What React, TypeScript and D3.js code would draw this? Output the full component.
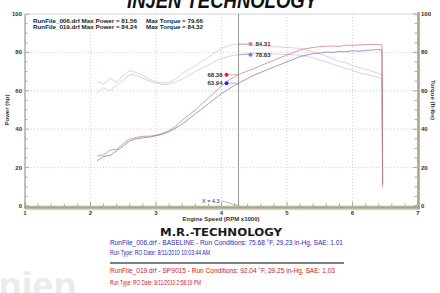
import React from "react";
import * as d3 from "d3";

const rpm = [2.1,2.2,2.3,2.4,2.5,2.6,2.7,2.8,2.9,3.0,3.1,3.2,3.3,3.4,3.5,3.6,3.7,3.8,3.9,4.0,4.1,4.2,4.3,4.4,4.5,4.6,4.7,4.8,4.9,5.0,5.1,5.2,5.3,5.4,5.5,5.6,5.7,5.8,5.9,6.0,6.1,6.2,6.3,6.4,6.45,6.46];
const power019 = [26.0,26.6,29.1,29.5,32.4,34.9,35.7,36.3,36.4,36.8,37.8,39.3,41.5,44.7,47.3,50.0,53.2,56.1,59.4,62.5,65.2,67.4,69.0,70.4,71.6,73.1,74.5,75.9,77.3,78.6,80.0,81.3,82.0,82.6,83.0,83.2,83.3,83.1,83.8,83.6,83.9,84.0,84.2,84.1,83.9,12.0];
const torque019 = [65,63.5,66.5,64.5,68,70.5,69.5,68,66,64.5,64,64.5,66,69,71,73,75.5,77.5,80,82,83.5,84.3,84.3,84.0,83.6,83.5,83.2,83.0,82.8,82.6,82.4,82.1,81.3,80.3,79.3,78.0,76.8,75.2,74.6,73.2,72.2,71.2,70.2,69.0,68.3,9.8];
const power006 = [23.6,25.8,26.3,28.8,31.2,33.9,35.0,35.5,35.9,36.6,37.3,38.7,40.5,42.7,45.3,48.0,50.6,53.2,55.9,58.5,60.7,62.8,64.7,66.4,68.2,69.6,71.0,72.4,73.7,75.1,76.5,77.8,78.6,79.4,79.6,80.2,80.0,80.5,80.3,80.9,80.6,81.0,81.3,81.5,81.2,11.0];
const torque006 = [59,61.5,60,63,65.5,68.5,68,66.5,65,64,63.2,63.5,64.5,66,68,70,71.8,73.5,75.3,76.8,77.8,78.5,79.0,79.3,79.6,79.5,79.3,79.2,79.0,78.9,78.8,78.6,77.9,77.2,76.0,75.2,73.7,72.9,71.5,70.8,69.4,68.6,67.8,66.9,66.1,9.0];

const xTicks = [1,2,3,4,5,6,7];
const yTicks = [0,20,40,60,80,100];
const cursorX = 4.26;
const cursorLabel = "X = 4.3";
const cursorValues = [
  { v: 84.31, side: "right", color: "#ff7070" },
  { v: 78.83, side: "right", color: "#7878ff" },
  { v: 68.38, side: "left", color: "#ff1a1a" },
  { v: 63.94, side: "left", color: "#1a2cff" },
];
const legendLines = [
  ["RunFile_006.drf Max Power = 81.56", "Max Torque = 79.66"],
  ["RunFile_019.drf Max Power = 84.24", "Max Torque = 84.32"],
];
const footerLines = [
  { t: "RunFile_006.drf - BASELINE  -  Run Conditions: 75.68 °F, 29.23 in-Hg, SAE: 1.01", c: "#2a2ab8", w: 233 },
  { t: "Run Type: RO  Date: 8/11/2010 10:03:44 AM", c: "#2a2ab8", w: 100 },
  { t: "RunFile_019.drf - SP9015  -  Run Conditions: 92.04 °F, 29.25 in-Hg, SAE: 1.03", c: "#cc2020", w: 225 },
  { t: "Run Type: RO  Date: 8/11/2010 2:58:19 PM", c: "#cc2020", w: 91 },
];

export default function App() {
  const x = d3.scaleLinear().domain([1, 7]).range([25, 418]);
  const y = d3.scaleLinear().domain([0, 100]).range([206, 14]);
  const mk = (vals: number[]) =>
    d3.line<number>().x((_, i) => x(rpm[i])).y((d) => y(d))(vals) || "";
  const series = [
    { d: torque019, c: "#ebb6b6" },
    { d: torque006, c: "#bfbfe6" },
    { d: power006, c: "#6e6ebc" },
    { d: power019, c: "#cc7070" },
  ];
  const font = "'Liberation Sans', Arial, sans-serif";
  const minorY = d3.range(0, 101, 5);
  const minorX = d3.range(1, 7.001, 0.2);
  const cx = x(cursorX);
  return (
    <svg width={440} height={293} style={{ position: "absolute", left: 0, top: 0, background: "#fff" }} fontFamily={font}>
      {/* title logo */}
      <text x={222} y={8} textAnchor="middle" fontSize={22} fontWeight={900} fontStyle="italic" textLength={190} lengthAdjust="spacingAndGlyphs" fill="#111">INJEN TECHNOLOGY</text>
      {/* faint logo bottom-left */}
      <text x={-12} y={299} fontSize={38} fontWeight={700} fill="#ebebeb">injen</text>
      {/* grid */}
      {yTicks.filter((t) => t > 0 && t < 100).map((t) => (
        <line key={"gy" + t} x1={25} x2={418} y1={y(t)} y2={y(t)} stroke="#c4c4c4" strokeWidth={0.8} strokeDasharray="1,2" />
      ))}
      {xTicks.filter((t) => t > 1 && t < 7).map((t) => (
        <line key={"gx" + t} x1={x(t)} x2={x(t)} y1={14} y2={206} stroke="#c4c4c4" strokeWidth={0.8} strokeDasharray="1,2" />
      ))}
      {/* frame */}
      <rect x={25} y={14} width={393} height={192} rx={4} fill="none" stroke="#c8c8c8" strokeWidth={0.8} />
      <line x1={25} x2={25} y1={14} y2={207} stroke="#9a9a9a" strokeWidth={1} />
      {minorY.map((t) => (
        <line key={"ly" + t} x1={25} x2={t % 20 === 0 ? 29 : 27.5} y1={y(t)} y2={y(t)} stroke="#888" strokeWidth={0.7} />
      ))}
      <line x1={25} x2={420} y1={209.5} y2={209.5} stroke="#d8d4c8" strokeWidth={1.5} />
      <line x1={24} x2={420} y1={207.5} y2={207.5} stroke="#aaa48c" strokeWidth={2.5} />
      {minorX.map((t, i) => (
        <line key={"bx" + i} x1={x(t)} x2={x(t)} y1={206} y2={i % 5 === 0 ? 202 : 203.5} stroke="#888" strokeWidth={0.7} />
      ))}
      <line x1={418.5} x2={418.5} y1={12} y2={209} stroke="#aaa48c" strokeWidth={2.5} />
      {minorY.map((t) => (
        <line key={"ry" + t} x1={417} x2={t % 20 === 0 ? 413 : 414.5} y1={y(t)} y2={y(t)} stroke="#888" strokeWidth={0.7} />
      ))}
      {/* tick labels */}
      {yTicks.map((t) => (
        <text key={"lt" + t} x={22} y={y(t) + 2} textAnchor="end" fontSize={6} fontWeight={700} fill="#333">{t}</text>
      ))}
      {yTicks.map((t) => (
        <text key={"rt" + t} x={421} y={y(t) + 2} textAnchor="start" fontSize={6} fontWeight={700} fill="#333">{t}</text>
      ))}
      {xTicks.map((t) => (
        <text key={"xt" + t} x={x(t)} y={215} textAnchor="middle" fontSize={6} fontWeight={700} fill="#333">{t}</text>
      ))}
      <text transform="translate(9,110) rotate(-90)" textAnchor="middle" fontSize={6} fontWeight={700} fill="#333">Power (hp)</text>
      <text transform="translate(431,100) rotate(90)" textAnchor="middle" fontSize={6} fontWeight={700} fill="#333">Torque (ft-lbs)</text>
      <text x={221} y={221} textAnchor="middle" fontSize={6} fontWeight={700} fill="#333">Engine Speed (RPM x1000)</text>
      {/* legend */}
      {legendLines.map((l, i) => (
        <g key={"lg" + i}>
          <text x={33} y={23 + i * 5.5} fontSize={5.5} fontWeight={700} fill="#222" textLength={104} lengthAdjust="spacingAndGlyphs">{l[0]}</text>
          <text x={146} y={23 + i * 5.5} fontSize={5.5} fontWeight={700} fill="#222" textLength={57} lengthAdjust="spacingAndGlyphs">{l[1]}</text>
        </g>
      ))}
      {/* curves */}
      {series.map((s, i) => (
        <path key={"s" + i} d={mk(s.d)} fill="none" stroke={s.c} strokeWidth={0.7} />
      ))}
      {/* cursor */}
      <line x1={cx} x2={cx} y1={14} y2={206} stroke="#7a7a7a" strokeWidth={0.8} />
      <text x={202} y={203} fontSize={5.5} fill="#333">{cursorLabel}</text>
      <line x1={222} x2={cx} y1={201} y2={205.5} stroke="#888" strokeWidth={0.6} />
      {cursorValues.map((c, i) => {
        const cy = y(c.v);
        const dx = c.side === "right" ? cx + 12 : cx - 12;
        return (
          <g key={"cv" + i}>
            <line x1={cx} x2={dx} y1={cy} y2={cy} stroke="#999" strokeWidth={0.7} />
            <circle cx={dx} cy={cy} r={2} fill={c.color} />
            <text x={c.side === "right" ? dx + 5 : dx - 4} y={cy + 2} textAnchor={c.side === "right" ? "start" : "end"} fontSize={6} fontWeight={700} fill="#333">{c.v.toFixed(2)}</text>
          </g>
        );
      })}
      {/* footer */}
      <text x={221} y={236} textAnchor="middle" fontSize={10} fontWeight={900} fill="#1a1a1a" textLength={122} lengthAdjust="spacingAndGlyphs" fontFamily="'DejaVu Sans', Arial, sans-serif">M.R.-TECHNOLOGY</text>
      {footerLines.map((f, i) => (
        <text key={"ft" + i} x={110} y={[245, 255, 273, 285][i]} fontSize={6.5} fill={f.c} textLength={f.w} lengthAdjust="spacingAndGlyphs" fontFamily="'Liberation Sans Narrow', 'Liberation Sans', Arial, sans-serif">{f.t}</text>
      ))}
      <line x1={110} x2={344} y1={263} y2={263} stroke="#555" strokeWidth={1.5} />
    </svg>
  );
}
